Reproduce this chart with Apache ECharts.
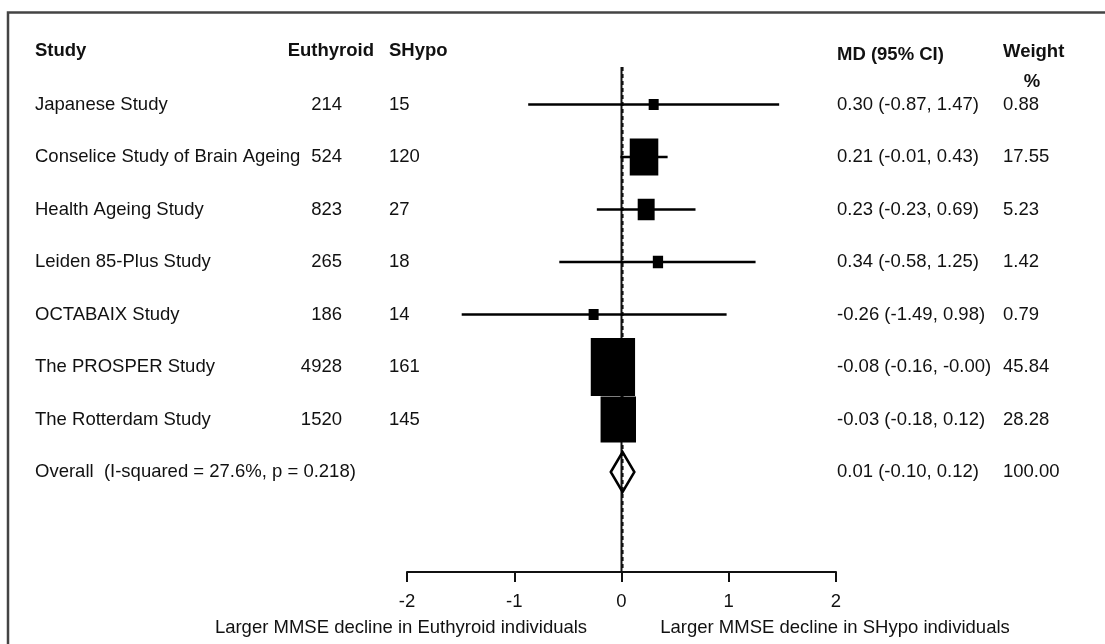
<!DOCTYPE html>
<html>
<head>
<meta charset="utf-8">
<title>Forest plot: MMSE decline, euthyroid vs subclinical hypothyroid</title>
<script src="https://cdn.jsdelivr.net/npm/echarts@6/dist/echarts.min.js"></script>
<style>
  html, body { margin: 0; padding: 0; background: #fff; }
  #chart { width: 1105px; height: 644px; }
</style>
</head>
<body>
<div id="chart"></div>
<script>
// ---- study data ----
const studies = [
  'Japanese Study',
  'Conselice Study of Brain Ageing',
  'Health Ageing Study',
  'Leiden 85-Plus Study',
  'OCTABAIX Study',
  'The PROSPER Study',
  'The Rotterdam Study'
];
const euthyroidN = [214, 524, 823, 265, 186, 4928, 1520];
const shypoN = [15, 120, 27, 18, 14, 161, 145];
const meanDiff = [0.30, 0.21, 0.23, 0.34, -0.26, -0.08, -0.03];
const ciLower = [-0.87, -0.01, -0.23, -0.58, -1.49, -0.16, -0.18];
const ciUpper = [1.47, 0.43, 0.69, 1.25, 0.98, -0.00, 0.12];
const weights = [0.88, 17.55, 5.23, 1.42, 0.79, 45.84, 28.28];

// pooled estimate
const overallLabel = 'Overall  (I-squared = 27.6%, p = 0.218)';
const overallMD = 0.01;
const overallLower = -0.10;
const overallUpper = 0.12;
const overallWeight = 100.00;

// column headers and axis text
const headers = ['Study', 'Euthyroid', 'SHypo', 'MD (95% CI)', 'Weight', '%'];
const xTicks = [-2, -1, 0, 1, 2];
const leftNote = 'Larger MMSE decline in Euthyroid individuals';
const rightNote = 'Larger MMSE decline in SHypo individuals';

// ---- layout ----
const FONT = '"Liberation Sans", Arial, Helvetica, sans-serif';
const FS = 18.5;
const INK = '#111';
const COL_STUDY = 35, COL_EUTH_RIGHT = 342, COL_SHYPO = 389, COL_MD = 837, COL_WT = 1003;
const BOX_W = 6.1, BOX_H = 8.1;   // box side per sqrt(weight %)
const BOX_MIN_W = 7, BOX_MIN_H = 8;
const Y_MIN = -0.762, Y_MAX = 9.905;  // row scale (row 1 = first study)
const REF_TOP = 0.286;               // top of the reference lines, in rows

function fmt(v) {
  const neg = v < 0 || Object.is(v, -0);
  return (neg ? '-' : '') + Math.abs(v).toFixed(2);
}
function ciText(m, lo, hi) {
  return fmt(m) + ' (' + fmt(lo) + ', ' + fmt(hi) + ')';
}

// rows: [row, estimate, lower, upper, weight]
const studyRows = studies.map((s, i) => [i + 1, meanDiff[i], ciLower[i], ciUpper[i], weights[i]]);
const overallRow = studies.length + 1;

function txt(x, y, text, opts) {
  return {
    type: 'text',
    style: Object.assign({
      x: x, y: y, text: text, fill: INK,
      fontSize: FS, fontFamily: FONT,
      align: 'left', verticalAlign: 'middle'
    }, opts || {})
  };
}

const chart = echarts.init(document.getElementById('chart'), null, { renderer: 'canvas' });

chart.setOption({
  backgroundColor: '#fff',
  animation: false,
  grid: { left: 407, right: 269, top: 12, bottom: 72 },
  xAxis: {
    type: 'value', min: -2, max: 2, interval: 1,
    axisLine: { show: true, onZero: false, lineStyle: { color: INK, width: 2 } },
    axisTick: { show: true, length: 10, lineStyle: { color: INK, width: 2 } },
    axisLabel: {
      color: INK, fontSize: FS, fontFamily: FONT, margin: 20,
      formatter: v => xTicks.indexOf(v) >= 0 ? String(v) : ''
    },
    splitLine: { show: false }
  },
  yAxis: {
    type: 'value', min: Y_MIN, max: Y_MAX, inverse: true, show: false
  },
  graphic: [
    // frame
    {
      type: 'polyline',
      shape: { points: [[8, 660], [8, 12.5], [1120, 12.5]] },
      style: { stroke: '#444', lineWidth: 2.5, fill: null },
      silent: true
    },
    {
      type: 'text',
      style: { x: 401, y: 628, text: leftNote, fill: INK, fontSize: FS, fontFamily: FONT, align: 'center', verticalAlign: 'middle' }
    },
    {
      type: 'text',
      style: { x: 835, y: 628, text: rightNote, fill: INK, fontSize: FS, fontFamily: FONT, align: 'center', verticalAlign: 'middle' }
    }
  ],
  series: [
    // line of no effect
    {
      type: 'line', data: [[0, REF_TOP], [0, Y_MAX]],
      symbol: 'none', lineStyle: { color: INK, width: 2 }, silent: true, z: 2
    },
    // pooled estimate, dashed
    {
      type: 'line', data: [[overallMD, REF_TOP], [overallMD, Y_MAX]],
      symbol: 'none', lineStyle: { color: INK, width: 2, type: [4, 3] }, silent: true, z: 2
    },
    // study intervals and weighted boxes
    {
      type: 'custom', clip: false, z: 3,
      data: studyRows,
      encode: { x: [1, 2, 3], y: 0 },
      renderItem: function (params, api) {
        const r = api.value(0), est = api.value(1), lo = api.value(2), hi = api.value(3), w = api.value(4);
        const pLo = api.coord([lo, r]), pHi = api.coord([hi, r]), pC = api.coord([est, r]);
        const bw = Math.max(BOX_MIN_W, BOX_W * Math.sqrt(w));
        const bh = Math.max(BOX_MIN_H, BOX_H * Math.sqrt(w));
        return {
          type: 'group',
          children: [
            { type: 'line', shape: { x1: pLo[0], y1: pLo[1], x2: pHi[0], y2: pHi[1] }, style: { stroke: '#000', lineWidth: 2.5 } },
            { type: 'rect', shape: { x: pC[0] - bw / 2, y: pC[1] - bh / 2, width: bw, height: bh }, style: { fill: '#000', stroke: '#000', lineWidth: 3 } }
          ]
        };
      }
    },
    // pooled diamond
    {
      type: 'custom', clip: false, z: 4,
      data: [[overallRow, overallMD, overallLower, overallUpper]],
      encode: { x: [1, 2, 3], y: 0 },
      renderItem: function (params, api) {
        const r = api.value(0);
        const pLo = api.coord([api.value(2), r]), pHi = api.coord([api.value(3), r]), pC = api.coord([api.value(1), r]);
        const half = 20;
        return {
          type: 'polygon',
          shape: { points: [[pLo[0], pLo[1]], [pC[0], pC[1] - half], [pHi[0], pHi[1]], [pC[0], pC[1] + half]] },
          style: { fill: null, stroke: '#000', lineWidth: 2.5 }
        };
      }
    },
    // table text
    {
      type: 'custom', clip: false, z: 5, silent: true,
      data: [[0]].concat(studyRows.map(d => [d[0]])).concat([[overallRow]]),
      encode: { y: 0 },
      renderItem: function (params, api) {
        const i = params.dataIndex;
        const y = api.coord([0, api.value(0)])[1];
        const bold = { fontWeight: 'bold' };
        if (i === 0) {
          return {
            type: 'group',
            children: [
              txt(COL_STUDY, y - 1, headers[0], bold),
              txt(COL_EUTH_RIGHT + 32, y - 1, headers[1], { fontWeight: 'bold', align: 'right' }),
              txt(COL_SHYPO, y - 1, headers[2], bold),
              txt(COL_MD, y + 3, headers[3], bold),
              txt(COL_WT, y, headers[4], bold),
              txt(COL_WT + 29, y + 30, headers[5], { fontWeight: 'bold', align: 'center' })
            ]
          };
        }
        if (i <= studies.length) {
          const k = i - 1;
          return {
            type: 'group',
            children: [
              txt(COL_STUDY, y, studies[k]),
              txt(COL_EUTH_RIGHT, y, String(euthyroidN[k]), { align: 'right' }),
              txt(COL_SHYPO, y, String(shypoN[k])),
              txt(COL_MD, y, ciText(meanDiff[k], ciLower[k], ciUpper[k])),
              txt(COL_WT, y, weights[k].toFixed(2))
            ]
          };
        }
        return {
          type: 'group',
          children: [
            txt(COL_STUDY, y, overallLabel),
            txt(COL_MD, y, ciText(overallMD, overallLower, overallUpper)),
            txt(COL_WT, y, overallWeight.toFixed(2))
          ]
        };
      }
    }
  ]
});
</script>
</body>
</html>
